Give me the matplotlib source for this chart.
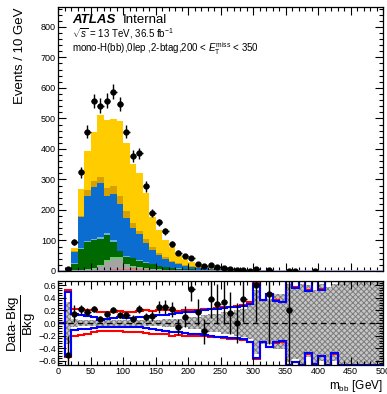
import numpy as np
import matplotlib
matplotlib.use("Agg")
import matplotlib.pyplot as plt
from matplotlib.ticker import MultipleLocator

plt.rcParams['font.family'] = 'Liberation Sans'
plt.rcParams['mathtext.fontset'] = 'custom'
plt.rcParams['mathtext.rm'] = 'Liberation Sans'
plt.rcParams['mathtext.it'] = 'Liberation Sans:italic'
plt.rcParams['mathtext.bf'] = 'Liberation Sans:bold'
plt.rcParams['hatch.linewidth'] = 0.7

# 10 GeV bins from 0 to 500
edges = np.arange(0, 510, 10)

# background components per bin (bottom of stack first)
vh = [0, 0, 0.5, 1, 1.5, 2, 3, 4, 5, 6, 8, 9, 8, 6, 4.5, 3, 2.5, 2, 1.5, 1,
      0.8, 0.6, 0.5, 0.4, 0.3, 0.3, 0.2, 0.2, 0.1, 0.1, 0.1, 0.1, 0.1, 0.05, 0.05, 0, 0, 0, 0, 0,
      0, 0, 0, 0, 0, 0, 0, 0, 0, 0]
diboson = [0, 0, 1, 2, 3, 4, 13, 26, 35, 34, 11, 4, 2, 1.5, 1, 1, 0.8, 0.6, 0.5, 0.4,
           0.3, 0.3, 0.2, 0.2, 0.2, 0.1, 0.1, 0.1, 0.1, 0.1, 0.1, 0.05, 0.05, 0.05, 0, 0, 0, 0, 0, 0,
           0, 0, 0, 0, 0, 0, 0, 0, 0, 0]
vh_light = [0, 0, 0.5, 1, 1.5, 3, 4, 5, 6, 6, 4, 2, 2, 1.5, 1.5, 1, 0.7, 0.5, 0.4, 0.3,
            0.3, 0.2, 0.2, 0.1, 0.1, 0.1, 0.1, 0.1, 0, 0, 0, 0, 0, 0, 0, 0, 0, 0, 0, 0,
            0, 0, 0, 0, 0, 0, 0, 0, 0, 0]
wjets = [0, 3, 22, 68, 90, 92, 85, 84, 50, 18, 23, 26, 21, 18, 15, 11, 9, 7, 5.5, 4.3,
         3.6, 3, 2.5, 2, 1.6, 1.3, 1, 0.8, 0.6, 0.5, 0.5, 0.4, 0.3, 0.3, 0.2, 0.15, 0.15, 0.1, 0.1, 0.1,
         0.05, 0.05, 0.05, 0.05, 0.03, 0.03, 0.03, 0.02, 0.02, 0.02]
zbc = [0, 0, 1, 2, 3, 3, 5, 4, 4, 3, 2, 2, 1.5, 1, 1, 0.8, 0.6, 0.5, 0.4, 0.3,
       0.3, 0.2, 0.2, 0.2, 0.1, 0.1, 0.1, 0.1, 0.1, 0.1, 0.05, 0.05, 0.05, 0.05, 0, 0, 0, 0, 0, 0,
       0, 0, 0, 0, 0, 0, 0, 0, 0, 0]
zjets = [0, 6, 37, 103, 146, 172, 178, 123, 153, 151, 126, 97, 86, 64, 45, 35, 27, 19, 15, 11,
         8, 6.4, 5, 4.2, 3.7, 3, 2.3, 1.8, 1.3, 1.2, 1.6, 1.1, 0.9, 0.7, 0.6, 0.35, 0.4, 0.25, 0.2, 0.2,
         0.15, 0.12, 0.12, 0.08, 0.08, 0.06, 0.04, 0.04, 0.04, 0.04]
stop = [0, 1, 4, 3, 20, 18, 20, 25, 24, 29, 21, 17, 12, 13, 12, 8, 6, 4, 3, 2,
        2, 1.5, 1.5, 1, 1, 0.8, 0.6, 0.5, 0.3, 0.3, 0.3, 0.2, 0.2, 0.15, 0.15, 0.1, 0.1, 0.07, 0.05, 0.05,
        0.05, 0.04, 0.04, 0.02, 0.02, 0.02, 0.02, 0.02, 0.02, 0.02]
ttbar = [0, 1, 10, 88, 127, 161, 204, 225, 221, 245, 223, 195, 187, 151, 96, 73, 56, 44, 34, 21,
         15, 11, 8, 6, 5, 3.4, 2.6, 1.9, 0.5, 0.7, 0.9, 0.6, 0.4, 0.3, 0.4, 0.2, 0.15, 0.18, 0.15, 0.1,
         0.15, 0.09, 0.09, 0.05, 0.07, 0.04, 0.01, 0.02, 0.02, 0.02]

components = [vh, diboson, vh_light, wjets, zbc, zjets, stop, ttbar]
colors = ['#e07878', '#a4a4a4', '#6ccc6c', '#006a00', '#6aaee6', '#0b6dd0', '#d6a000', '#ffcc00']

# data (bin centres) in the upper panel
data_x = [15, 25, 35, 45, 55, 65, 75, 85, 95, 105, 115, 125, 135, 145, 155, 165, 175, 185,
          195, 205, 215, 225, 235, 245, 255, 265, 275, 285, 295, 305, 325, 355, 365, 395]
data_y = [5, 95, 324, 456, 557, 542, 558, 587, 546, 456, 376, 385, 277, 190, 159, 130, 88, 60,
          49, 44, 24, 16, 19, 14, 10, 5, 4, 4, 0, 5, 3, 1, 0, 0]

# ratio panel: (data - bkg) / bkg
ratio_x = [15, 25, 35, 45, 55, 65, 75, 85, 95, 105, 115, 125, 135, 145, 155, 165, 175, 185,
           195, 205, 215, 225, 235, 245, 255, 265, 275, 285, 305, 325, 355]
ratio_y = [-0.51, 0.15, 0.22, 0.18, 0.22, 0.07, 0.14, 0.20, 0.12, 0.12, 0.07, 0.22, 0.10, 0.11,
           0.26, 0.26, 0.22, -0.06, 0.10, 0.55, 0.18, -0.13, 0.38, 0.31, 0.33, 0.16, 0.0, 0.38,
           0.61, 0.46, 0.20]
ratio_err = [0.30, 0.13, 0.07, 0.055, 0.05, 0.045, 0.048, 0.048, 0.048, 0.05, 0.055, 0.06, 0.065,
             0.08, 0.095, 0.11, 0.12, 0.13, 0.17, 0.20, 0.21, 0.20, 0.30, 0.32, 0.35, 0.33, 0.32,
             0.37, 0.60, 0.80, 1.0]

# uncertainty envelopes in the ratio panel
stat_up = [0, 0.33, 0.06, 0.045, 0.045, 0.045, 0.045, 0.045, 0.045, 0.045, 0.05, 0.05, 0.05, 0.05,
           0.05, 0.05, 0.06, 0.06, 0.06, 0.08, 0.10, 0.10, 0.12, 0.14, 0.15, 0.17, 0.18, 0.20, 0.22,
           0.28, 0.52, 0.38, 0.38, 0.46, 0.46, 0.62, 0.55, 0.62, 0.60, 0.52, 0.62, 0.58, 0.62,
           0.8, 0.8, 0.8, 0.8, 0.8, 0.8, 0.8]
stat_dn = [0, -0.33, -0.06, -0.045, -0.045, -0.045, -0.045, -0.045, -0.045, -0.045, -0.05, -0.05,
           -0.05, -0.05, -0.05, -0.05, -0.06, -0.06, -0.06, -0.07, -0.10, -0.10, -0.12, -0.14, -0.15,
           -0.17, -0.18, -0.20, -0.22, -0.26, -0.50, -0.34, -0.34, -0.42, -0.42, -0.62, -0.58, -0.7,
           -0.55, -0.7, -0.6, -0.7, -0.6, -0.8, -0.8, -0.8, -0.8, -0.8, -0.8, -0.8]
blue_up = [0, 0.50, 0.15, 0.12, 0.11, 0.10, 0.05, 0.06, 0.08, 0.09, 0.08, 0.08, 0.09, 0.10, 0.11,
           0.12, 0.13, 0.14, 0.16, 0.17, 0.18, 0.19, 0.20, 0.22, 0.22, 0.24, 0.25, 0.25, 0.27, 0.31,
           0.62, 0.36, 0.46, 0.35, 0.33, 0.9, 0.56, 0.9, 0.51, 0.9, 0.52, 0.9, 0.9, 0.9, 0.9, 0.9,
           0.9, 0.9, 0.9, 0.9]
blue_dn = [0, -0.52, -0.11, -0.10, -0.09, -0.08, -0.06, -0.07, -0.07, -0.06, -0.06, -0.06, -0.07,
           -0.08, -0.10, -0.11, -0.12, -0.14, -0.15, -0.16, -0.17, -0.18, -0.19, -0.21, -0.22, -0.23,
           -0.24, -0.24, -0.26, -0.30, -0.56, -0.30, -0.38, -0.30, -0.28, -0.9, -0.62, -0.9, -0.48,
           -0.66, -0.52, -0.9, -0.48, -0.9, -0.9, -0.9, -0.9, -0.9, -0.9, -0.9]
red_up = [0, 0.53, 0.22, 0.22, 0.21, 0.20, 0.18, 0.17, 0.18, 0.19, 0.17, 0.17, 0.19, 0.20, 0.19,
          0.20, 0.21, 0.21, 0.19, 0.20, 0.21, 0.20, 0.22, 0.23, 0.24, 0.26, 0.26, 0.27, 0.28, 0.33,
          0.64, 0.37, 0.47, 0.36, 0.34, 0.9, 0.58, 0.9, 0.53, 0.9, 0.54, 0.9, 0.9, 0.9, 0.9, 0.9,
          0.9, 0.9, 0.9, 0.9]
red_dn = [0, -0.55, -0.21, -0.19, -0.17, -0.15, -0.13, -0.13, -0.12, -0.13, -0.14, -0.15, -0.15,
          -0.16, -0.17, -0.18, -0.18, -0.20, -0.19, -0.20, -0.21, -0.20, -0.21, -0.22, -0.23, -0.24,
          -0.25, -0.25, -0.27, -0.31, -0.58, -0.31, -0.39, -0.32, -0.30, -0.9, -0.63, -0.9, -0.49,
          -0.68, -0.53, -0.9, -0.49, -0.9, -0.9, -0.9, -0.9, -0.9, -0.9, -0.9]


def style_axis(ax):
    ax.tick_params(which='both', direction='in', top=True, right=True, labelsize=6.5, pad=1.5)
    ax.tick_params(which='major', length=6, width=0.8)
    ax.tick_params(which='minor', length=3, width=0.8)
    for s in ax.spines.values():
        s.set_linewidth(0.9)


fig = plt.figure(figsize=(3.87, 3.94), dpi=100)
ax = fig.add_axes([0.1499, 0.3122, 0.8398, 0.67])
rax = fig.add_axes([0.1499, 0.0736, 0.8398, 0.2132])

# stacked backgrounds
bottom = np.zeros(len(edges) - 1)
for vals, c in zip(components, colors):
    top = bottom + np.array(vals)
    ax.stairs(top, edges, baseline=bottom, fill=True, color=c, linewidth=0)
    bottom = top
ax.axhline(0.8, color='#b8a8e8', lw=1.2)

dy = np.sqrt(np.array(data_y, dtype=float))
ax.errorbar(data_x, data_y, xerr=5, yerr=dy, fmt='o', color='black', ms=3.5,
            elinewidth=1.0, capsize=0, zorder=5)

ax.set_xlim(0, 500)
ax.set_ylim(0, 865)
ax.xaxis.set_major_locator(MultipleLocator(50))
ax.xaxis.set_minor_locator(MultipleLocator(10))
ax.yaxis.set_major_locator(MultipleLocator(100))
ax.yaxis.set_minor_locator(MultipleLocator(20))
ax.set_xticklabels([])
style_axis(ax)
ax.set_ylabel('Events / 10 GeV', fontsize=9.5, loc='top')
ax.yaxis.set_label_coords(-0.10, 1.0)

ax.text(0.043, 0.941, 'ATLAS', transform=ax.transAxes, fontsize=9.5,
        fontweight='bold', fontstyle='italic')
ax.text(0.199, 0.941, 'Internal', transform=ax.transAxes, fontsize=9.5)
ax.text(0.043, 0.886, r'$\sqrt{s}$ = 13 TeV, 36.5 fb$^{-1}$', transform=ax.transAxes, fontsize=7)
ax.text(0.043, 0.829, r'mono-H(bb),0lep ,2-btag,200 < $E_{\mathrm{T}}^{\mathrm{miss}}$ < 350',
        transform=ax.transAxes, fontsize=7)

# ratio panel
rlim = 0.67
rax.stairs(stat_up, edges, baseline=stat_dn, fill=True, facecolor='#c6c6c6',
           edgecolor='#7c7c7c', hatch='xxxxxx', linewidth=0)
rax.axhline(0, color='black', ls=(0, (4, 3)), lw=1.0)
for vals, c in [(red_up, 'red'), (red_dn, 'red'), (blue_up, 'blue'), (blue_dn, 'blue')]:
    rax.stairs(np.clip(vals, -rlim, rlim), edges, color=c, lw=1.5, baseline=None)
rax.errorbar(ratio_x, ratio_y, xerr=5, yerr=ratio_err, fmt='o', color='black', ms=3.5,
             elinewidth=1.0, capsize=0, zorder=5)
rax.set_xlim(0, 500)
rax.set_ylim(-rlim, rlim)
rax.xaxis.set_major_locator(MultipleLocator(50))
rax.xaxis.set_minor_locator(MultipleLocator(10))
rax.yaxis.set_major_locator(MultipleLocator(0.2))
rax.yaxis.set_minor_locator(MultipleLocator(0.04))
style_axis(rax)
rax.set_ylabel(r'$\dfrac{\text{Data-Bkg}}{\text{Bkg}}$', fontsize=9.5)
rax.yaxis.set_label_coords(-0.062, 0.5)
rax.set_xlabel(r'm$_{\mathrm{bb}}$ [GeV]', fontsize=8.5, loc='right')
rax.xaxis.set_label_coords(1.0, -0.16)

fig.savefig('out.png', dpi=100)
